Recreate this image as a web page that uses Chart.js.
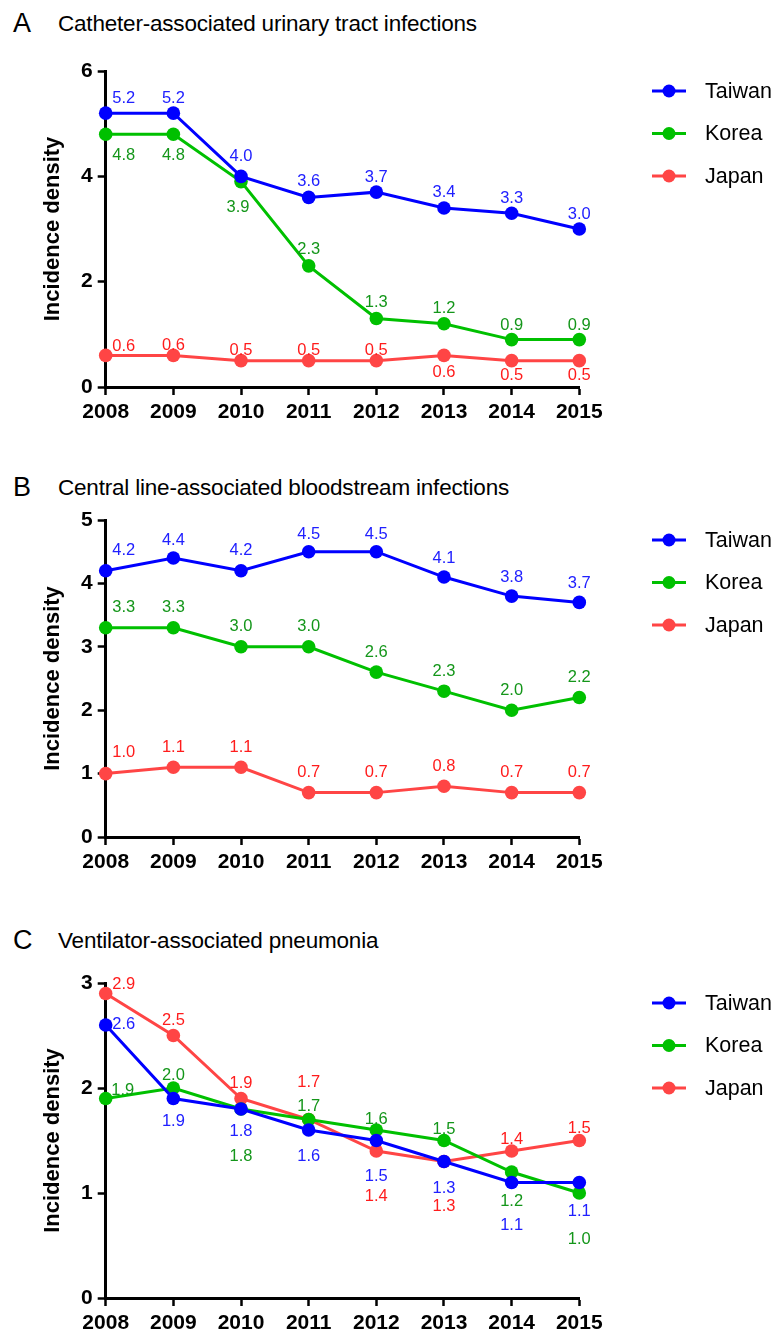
<!DOCTYPE html>
<html>
<head>
<meta charset="utf-8">
<title>Device-associated infection incidence density, 2008–2015</title>
<script src="https://cdn.jsdelivr.net/npm/chart.js@4.4.1/dist/chart.umd.min.js"></script>
<style>
  html, body { margin: 0; padding: 0; background: #ffffff; }
  body {
    width: 778px; height: 1336px; position: relative; overflow: hidden;
    font-family: "Liberation Sans", Arial, Helvetica, sans-serif; color: #000;
  }
  .panel { position: absolute; left: 0; width: 778px; }
  .heading { position: absolute; left: 0; width: 778px; height: 34px; white-space: nowrap; }
  .heading .letter { position: absolute; left: 13px; top: 0; font-size: 27px; line-height: 30px; }
  .heading .name { position: absolute; left: 58px; top: 3px; font-size: 22.5px; line-height: 26px; letter-spacing: -0.2px; }
</style>
</head>
<body>

<div class="heading" style="top:8px"><span class="letter">A</span><span class="name">Catheter-associated urinary tract infections</span></div>
<div class="panel" style="top:40px"><canvas id="chartA" width="778" height="387"></canvas></div>

<div class="heading" style="top:472px"><span class="letter">B</span><span class="name">Central line-associated bloodstream infections</span></div>
<div class="panel" style="top:500px"><canvas id="chartB" width="778" height="377"></canvas></div>

<div class="heading" style="top:925px"><span class="letter">C</span><span class="name">Ventilator-associated pneumonia</span></div>
<div class="panel" style="top:960px"><canvas id="chartC" width="778" height="378"></canvas></div>

<script>
// ---- data -------------------------------------------------------------
const years = ['2008', '2009', '2010', '2011', '2012', '2013', '2014', '2015'];
const countries = ['Taiwan', 'Korea', 'Japan'];

// A: catheter-associated urinary tract infections
const cautiTaiwan = [5.2, 5.2, 4.0, 3.6, 3.7, 3.4, 3.3, 3.0];
const cautiKorea  = [4.8, 4.8, 3.9, 2.3, 1.3, 1.2, 0.9, 0.9];
const cautiJapan  = [0.6, 0.6, 0.5, 0.5, 0.5, 0.6, 0.5, 0.5];
const cautiTicks  = [0, 2, 4, 6];

// B: central line-associated bloodstream infections
const clabsiTaiwan = [4.2, 4.4, 4.2, 4.5, 4.5, 4.1, 3.8, 3.7];
const clabsiKorea  = [3.3, 3.3, 3.0, 3.0, 2.6, 2.3, 2.0, 2.2];
const clabsiJapan  = [1.0, 1.1, 1.1, 0.7, 0.7, 0.8, 0.7, 0.7];
const clabsiTicks  = [0, 1, 2, 3, 4, 5];

// C: ventilator-associated pneumonia
const vapTaiwan = [2.6, 1.9, 1.8, 1.6, 1.5, 1.3, 1.1, 1.1];
const vapKorea  = [1.9, 2.0, 1.8, 1.7, 1.6, 1.5, 1.2, 1.0];
const vapJapan  = [2.9, 2.5, 1.9, 1.7, 1.4, 1.3, 1.4, 1.5];
const vapTicks  = [0, 1, 2, 3];

// ---- value-label placement (pixel shift from each point) --------------
const shiftA = {
  Taiwan: [[18, -15], [0, -15], [0, -20], [0, -16], [0, -15], [0, -15], [0, -15], [0, -15]],
  Korea:  [[18, 21], [0, 21], [-3, 26], [0, -16], [0, -16], [0, -15], [0, -14], [0, -14]],
  Japan:  [[18, -9], [0, -10], [0, -10], [0, -10], [0, -10], [0, 17], [0, 15], [0, 15]]
};
const shiftB = {
  Taiwan: [[18, -20], [0, -18], [0, -20], [0, -17], [0, -17], [0, -19], [0, -19], [0, -19]],
  Korea:  [[18, -20], [0, -20], [0, -20], [0, -20], [0, -20], [0, -20], [0, -20], [0, -20]],
  Japan:  [[18, -21], [0, -20], [0, -20], [0, -20], [0, -20], [0, -20], [0, -20], [0, -20]]
};
const shiftC = {
  Taiwan: [[18, -1], [0, 23], [0, 22], [0, 26], [0, 36], [0, 27], [0, 43], [0, 29]],
  Korea:  [[17, -8], [0, -13], [0, 47], [0, -13], [0, -11], [0, -11], [0, 29], [0, 46]],
  Japan:  [[18, -9], [0, -15], [0, -15], [0, -37], [0, 45], [0, 45], [0, -12], [0, -12]]
};

// ---- colours ----------------------------------------------------------
const palette = {
  Taiwan: { line: '#0000ff', label: '#2020ff' },
  Korea:  { line: '#00c000', label: '#14961a' },
  Japan:  { line: '#ff4545', label: '#ff1c1c' }
};

const FONT = '"Liberation Sans", Arial, Helvetica, sans-serif';

// value labels next to every point
const valueLabels = {
  id: 'valueLabels',
  afterDatasetsDraw(chart) {
    const ctx = chart.ctx;
    ctx.save();
    ctx.font = '16.5px ' + FONT;
    ctx.textAlign = 'center';
    ctx.textBaseline = 'middle';
    chart.data.datasets.forEach((ds, di) => {
      const meta = chart.getDatasetMeta(di);
      meta.data.forEach((pt, i) => {
        const s = ds.labelShift[i];
        ctx.fillStyle = ds.labelColor;
        ctx.fillText(ds.data[i].toFixed(1), pt.x + s[0], pt.y + s[1]);
      });
    });
    ctx.restore();
  }
};

// legend at the right of the plot: line with a dot, then the name
const sideLegend = {
  id: 'sideLegend',
  afterDraw(chart) {
    const ctx = chart.ctx;
    const top = chart.chartArea.top + 20;
    ctx.save();
    chart.data.datasets.forEach((ds, i) => {
      const y = top + i * 42.5;
      ctx.strokeStyle = ds.borderColor;
      ctx.lineWidth = 3;
      ctx.beginPath();
      ctx.moveTo(652, y);
      ctx.lineTo(686, y);
      ctx.stroke();
      ctx.fillStyle = ds.borderColor;
      ctx.beginPath();
      ctx.arc(669, y, 6.5, 0, Math.PI * 2);
      ctx.fill();
      ctx.fillStyle = '#000';
      ctx.font = '21.5px ' + FONT;
      ctx.textAlign = 'left';
      ctx.textBaseline = 'middle';
      ctx.fillText(ds.label, 705, y + 1);
    });
    ctx.restore();
  }
};

function buildPanel(canvasId, series, shifts, ticks, padTop) {
  const datasets = countries.map((name, k) => ({
    label: name,
    data: series[k],
    borderColor: palette[name].line,
    backgroundColor: palette[name].line,
    pointBackgroundColor: palette[name].line,
    pointBorderWidth: 0,
    pointRadius: 6.8,
    pointHoverRadius: 6.8,
    borderWidth: 3,
    tension: 0,
    clip: false,
    labelColor: palette[name].label,
    labelShift: shifts[name]
  }));

  return new Chart(document.getElementById(canvasId), {
    type: 'line',
    data: { labels: years, datasets },
    options: {
      responsive: false,
      animation: false,
      devicePixelRatio: 1,
      events: [],
      layout: { padding: { top: padTop, right: 198.7, bottom: 0, left: 0 } },
      plugins: { legend: { display: false }, tooltip: { enabled: false } },
      scales: {
        x: {
          type: 'category',
          offset: false,
          border: { display: true, color: '#000', width: 3 },
          grid: { display: true, drawOnChartArea: false, drawTicks: true, tickLength: 8, tickWidth: 2.5, tickColor: '#000', offset: false },
          ticks: { color: '#000', font: { family: FONT, size: 21, weight: 'bold' }, padding: 5, maxRotation: 0, autoSkip: false },
          afterFit(scale) { scale.height = 40; }
        },
        y: {
          min: ticks[0],
          max: ticks[ticks.length - 1],
          afterBuildTicks(scale) { scale.ticks = ticks.map(v => ({ value: v })); },
          border: { display: true, color: '#000', width: 3 },
          grid: { display: true, drawOnChartArea: false, drawTicks: true, tickLength: 8, tickWidth: 2.5, tickColor: '#000' },
          ticks: { color: '#000', font: { family: FONT, size: 21, weight: 'bold' }, padding: 5 },
          title: {
            display: true,
            text: 'Incidence density',
            color: '#000',
            font: { family: FONT, size: 22, weight: 'bold' },
            padding: { top: 40, bottom: 0 }
          },
          afterFit(scale) { scale.width = 105.7; }
        }
      }
    },
    plugins: [valueLabels, sideLegend]
  });
}

buildPanel('chartA', [cautiTaiwan, cautiKorea, cautiJapan], shiftA, cautiTicks, 31);
buildPanel('chartB', [clabsiTaiwan, clabsiKorea, clabsiJapan], shiftB, clabsiTicks, 20);
buildPanel('chartC', [vapTaiwan, vapKorea, vapJapan], shiftC, vapTicks, 23);
</script>
</body>
</html>
